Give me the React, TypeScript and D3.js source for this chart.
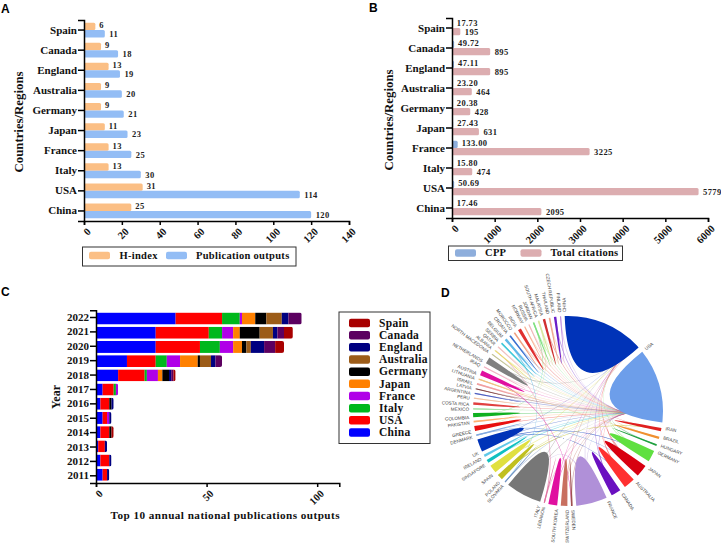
import React, { useEffect, useRef } from "react";
import * as d3 from "d3";

const countries = ["China", "USA", "Italy", "France", "Japan", "Germany", "Australia", "England", "Canada", "Spain"];
const hIndex = [25, 31, 13, 13, 11, 9, 9, 13, 9, 6];
const publications = [120, 114, 30, 25, 23, 21, 20, 19, 18, 11];
const cppLabels = ["17.46", "50.69", "15.80", "133.00", "27.43", "20.38", "23.20", "47.11", "49.72", "17.73"];
const totalCitations = [2095, 5779, 474, 3225, 631, 428, 464, 895, 895, 195];

const years = ["2011", "2012", "2013", "2014", "2015", "2016", "2017", "2018", "2019", "2020", "2021", "2022"];
const yearChina = [3, 2, 1, 2, 3, 2, 3, 10, 14, 27, 27, 36];
const yearUSA = [2, 4, 3, 4, 2, 4, 5, 12, 13, 20, 24, 21];
const yearItaly = [0, 0, 0, 0, 0, 0, 1, 1, 5, 9, 6, 8];
const yearFrance = [0, 0, 0, 0, 1, 0, 1, 5, 6, 6, 5, 1];
const yearJapan = [0, 0, 0, 0, 0, 0, 0, 2, 8, 4, 3, 6];
const yearGermany = [0, 0, 0, 1, 0, 1, 0, 3, 1, 2, 9, 5];
const yearAustralia = [0, 0, 0, 0, 0, 0, 0, 0, 5, 2, 6, 7];
const yearEngland = [1, 1, 1, 0, 1, 1, 0, 1, 2, 6, 2, 3];
const yearCanada = [0, 0, 0, 0, 0, 0, 0, 1, 3, 5, 3, 6];
const yearSpain = [0, 0, 0, 1, 0, 0, 0, 1, 0, 4, 4, 0];
const yearColors = ["#0000ff", "#ff0000", "#00b81c", "#b000e8", "#ff8000", "#000000", "#9c5c18", "#000080", "#5c0060", "#a80000"];

const chordNames = ["CHINA", "USA", "IRAN", "BRAZIL", "HUNGARY", "GERMANY", "JAPAN", "AUSTRALIA", "CANADA", "FRANCE", "SWEDEN", "SWITZERLAND", "SOUTH KOREA", "LEBANON", "ITALY", "SLOVAKIA", "POLAND", "SPAIN", "SINGAPORE", "IRELAND", "UK", "DENMARK", "GREECE", "PAKISTAN", "COLOMBIA", "MEXICO", "COSTA RICA", "PERU", "ARGENTINA", "LATVIA", "ISRAEL", "LITHUANIA", "AUSTRIA", "IRAQ", "NETHERLANDS", "NORTH MACEDONIA", "ALBANIA", "QATAR", "SERBIA", "BELGIUM", "CROATIA", "MOROCCO", "INDIA", "NORWAY", "RUSSIA", "JORDAN", "SOUTH AFRICA", "MALAYSIA", "THAILAND", "CZECH REPUBLIC", "FINLAND"];
const chordWeights = [50, 45.5, 2, 1.5, 1, 7, 7.5, 7, 6, 19, 1, 4, 5.4, 0.7, 22, 0.7, 3.5, 5, 2, 1.5, 7.7, 1, 3, 1, 2.5, 0.7, 1.5, 0.7, 0.7, 0.7, 1, 0.7, 3, 0.7, 4, 0.7, 0.7, 0.7, 1, 1.5, 1, 1, 2, 0.7, 0.7, 1, 1, 1.5, 1, 1.5, 0.7];
const chordColors = ["#0033b8", "#6d9eea", "#e02020", "#f09030", "#20a040", "#60e040", "#d80010", "#ff3030", "#6a10c0", "#b090d8", "#a05050", "#c87060", "#e010a0", "#e070a0", "#777777", "#7090c0", "#c0c020", "#e0e040", "#10c0c0", "#60c8e8", "#0033b8", "#80a8e0", "#e81010", "#ffb070", "#10b020", "#a0e0a0", "#e04040", "#f0c0a0", "#5060c0", "#804040", "#f0a0a0", "#f0c080", "#e010a0", "#f0b0c0", "#808080", "#c0c090", "#e8e070", "#f0c0c0", "#40c8d8", "#60b8e8", "#3a6fd0", "#f0a080", "#e03030", "#f8b090", "#f0b8b8", "#80e080", "#d8e8a0", "#d03030", "#f0a890", "#6a20c8", "#c090e0"];
const chinaPartners = ["ITALY", "FRANCE", "JAPAN", "GERMANY", "CANADA", "AUSTRALIA", "UK", "SOUTH KOREA", "SPAIN", "NETHERLANDS", "SWITZERLAND"];
const otherLinks = [["SOUTH AFRICA", "GREECE"], ["JORDAN", "COLOMBIA"], ["FRANCE", "ITALY"], ["UK", "GERMANY"], ["SPAIN", "ITALY"], ["POLAND", "IRAN"], ["AUSTRIA", "SWEDEN"], ["BELGIUM", "SLOVAKIA"], ["LEBANON", "ALBANIA"], ["UK", "AUSTRALIA"], ["DENMARK", "JAPAN"], ["LITHUANIA", "BRAZIL"]];

const serif = "'Liberation Serif', serif";
const sans = "'Liberation Sans', sans-serif";

function styleAxis(g: any, size: number) {
    g.selectAll("path").attr("stroke", "#000").attr("stroke-width", 1.5);
    g.selectAll("line").attr("stroke", "#000").attr("stroke-width", 1.5);
    g.selectAll("text").attr("font-family", serif).attr("font-weight", "bold").attr("font-size", size).attr("fill", "#111");
}

function drawAxes(svg: any, x: any, y: any, x0: number, y0: number, rowSize: number, tickFormat: any, tickValues: number[]) {
    const gx = svg.append("g")
        .attr("transform", `translate(0,${y0})`)
        .call(d3.axisBottom(x).tickValues(tickValues).tickSize(4).tickFormat(tickFormat));
    styleAxis(gx, 10.5);
    gx.selectAll("text")
        .attr("text-anchor", "end")
        .attr("dx", 3)
        .attr("dy", 0)
        .attr("transform", "rotate(-45) translate(-6,6)");

    const gy = svg.append("g")
        .attr("transform", `translate(${x0},0)`)
        .call(d3.axisLeft(y).tickSize(6).tickPadding(1));
    styleAxis(gy, rowSize);
}

function drawPairedBars(svg: any, opts: any) {
    const { x, y, first, second, firstColor, secondColor, firstText, secondText } = opts;
    const y1 = d3.scaleBand().domain(["first", "second"]).range([0, y.step()]).paddingOuter(0.36).paddingInner(0);

    const rows = svg.append("g");
    countries.forEach((c, i) => {
        rows.append("rect")
            .attr("x", x(0)).attr("y", y(c) + y1("first"))
            .attr("width", x(first[i]) - x(0)).attr("height", y1.bandwidth())
            .attr("rx", 1.5).attr("fill", firstColor);
        rows.append("rect")
            .attr("x", x(0)).attr("y", y(c) + y1("second"))
            .attr("width", x(second[i]) - x(0)).attr("height", y1.bandwidth())
            .attr("rx", 1.5).attr("fill", secondColor);
        rows.append("text")
            .text(firstText[i])
            .attr("x", x(first[i]) + 4).attr("y", y(c) + y1("first") + y1.bandwidth() / 2 - 1)
            .attr("dy", "0.32em");
        rows.append("text")
            .text(secondText[i])
            .attr("x", x(second[i]) + 4.5).attr("y", y(c) + y1("second") + y1.bandwidth() / 2 + 0.5)
            .attr("dy", "0.32em");
    });
    rows.selectAll("text")
        .attr("font-family", serif).attr("font-weight", "bold").attr("font-size", 8.5)
        .attr("letter-spacing", 0.4).attr("fill", "#222");
}

function yTitle(svg: any, text: string, x: number, y: number, size: number) {
    svg.append("text")
        .text(text)
        .attr("transform", `translate(${x},${y}) rotate(-90)`)
        .attr("text-anchor", "middle")
        .attr("font-family", serif).attr("font-weight", "bold").attr("font-size", size).attr("fill", "#111");
}

function legendBox(svg: any, x: number, y: number, w: number, h: number) {
    svg.append("rect")
        .attr("x", x).attr("y", y).attr("width", w).attr("height", h)
        .attr("fill", "#fff").attr("stroke", "#333").attr("stroke-width", 1);
}

function legendItem(svg: any, label: string, color: string, x: number, textX: number, y: number, size: number, h = 7.5) {
    svg.append("rect")
        .attr("x", x).attr("y", y - h / 2).attr("width", 21).attr("height", h)
        .attr("rx", 2).attr("fill", color);
    svg.append("text")
        .text(label)
        .attr("x", textX).attr("y", y).attr("dy", "0.32em")
        .attr("font-family", serif).attr("font-weight", "bold").attr("font-size", size)
        .attr("letter-spacing", 0.3).attr("fill", "#111");
}

function panelLetter(svg: any, text: string, x: number, y: number) {
    svg.append("text")
        .text(text)
        .attr("x", x).attr("y", y)
        .attr("font-family", sans).attr("font-weight", "bold").attr("font-size", 12).attr("fill", "#000");
}

function drawPanelA(svg: any) {
    const x = d3.scaleLinear().domain([0, 140]).range([84, 349]);
    const y = d3.scaleBand().domain(countries).range([221, 20]);
    drawPairedBars(svg, {
        x, y, first: hIndex, second: publications,
        firstColor: "#fbbf85", secondColor: "#93bdf5",
        firstText: hIndex, secondText: publications,
    });
    drawAxes(svg, x, y, 84, 221, 11, d3.format("d"), d3.range(0, 141, 20));
    yTitle(svg, "Countries/Regions", 23, 122, 12.8);
    legendBox(svg, 82.5, 247, 213.5, 19);
    legendItem(svg, "H-index", "#fbbf85", 89, 119.5, 255.5, 10.5);
    legendItem(svg, "Publication outputs", "#93bdf5", 166, 196, 255.5, 10.5);
    panelLetter(svg, "A", 1, 13);
}

function drawPanelB(svg: any) {
    const x = d3.scaleLinear().domain([0, 6000]).range([452, 708]);
    const y = d3.scaleBand().domain(countries).range([218, 18]);
    drawPairedBars(svg, {
        x, y, first: cppLabels.map(Number), second: totalCitations,
        firstColor: "#8eaedc", secondColor: "#dcadb0",
        firstText: cppLabels, secondText: totalCitations,
    });
    drawAxes(svg, x, y, 452, 218, 11, d3.format("d"), d3.range(0, 6001, 1000));
    yTitle(svg, "Countries/Regions", 393, 120, 12.8);
    legendBox(svg, 448.5, 246, 174, 14.5);
    legendItem(svg, "CPP", "#8eaedc", 455, 485, 253, 10.5);
    legendItem(svg, "Total citations", "#dcadb0", 520.5, 550.5, 253, 10.5);
    panelLetter(svg, "B", 369, 12);
}

function drawPanelC(svg: any) {
    const table = years.map((year, i) => ({
        year,
        China: yearChina[i], USA: yearUSA[i], Italy: yearItaly[i], France: yearFrance[i], Japan: yearJapan[i],
        Germany: yearGermany[i], Australia: yearAustralia[i], England: yearEngland[i], Canada: yearCanada[i], Spain: yearSpain[i],
    }));
    const x = d3.scaleLinear().domain([0, 110]).range([96, 339.3]);
    const y = d3.scaleBand().domain(years).range([483, 310.3]).padding(0.16);
    const stacked = d3.stack<any>().keys(countries)(table);
    const color = d3.scaleOrdinal<string>().domain(countries).range(yearColors);

    const defs = svg.append("defs");
    table.forEach((row, i) => {
        const total = stacked[stacked.length - 1][i][1];
        defs.append("clipPath").attr("id", `row-${row.year}`)
            .append("rect")
            .attr("x", x(0) - 3).attr("y", y(row.year))
            .attr("width", x(total) - x(0) + 3).attr("height", y.bandwidth())
            .attr("rx", 2);
    });

    svg.append("g").selectAll("g")
        .data(stacked)
        .join("g")
        .attr("fill", (s: any) => color(s.key))
        .selectAll("rect")
        .data((s: any) => s)
        .join("rect")
        .attr("x", (d: any) => x(d[0]))
        .attr("y", (d: any) => y(d.data.year))
        .attr("width", (d: any) => x(d[1]) - x(d[0]))
        .attr("height", y.bandwidth())
        .attr("clip-path", (d: any) => `url(#row-${d.data.year})`);

    const y2 = d3.scaleBand().domain(years).range([483, 310.3]);
    drawAxes(svg, x, y2, 96, 483, 11, d3.format("d"), [0, 50, 100]);
    yTitle(svg, "Year", 60, 397, 12);

    svg.append("text")
        .text("Top 10 annual national publications outputs")
        .attr("x", 340).attr("y", 519)
        .attr("text-anchor", "end")
        .attr("font-family", serif).attr("font-weight", "bold").attr("font-size", 11.2).attr("letter-spacing", 0.45).attr("fill", "#111");

    legendBox(svg, 339, 312, 91, 131.5);
    const legendY = d3.scalePoint().domain([...countries].reverse()).range([323, 432.5]);
    [...countries].reverse().forEach((c) => {
        legendItem(svg, c, color(c), 349, 379, legendY(c) as number, 11.5, 8.5);
    });
    panelLetter(svg, "C", 1, 296);
}

function drawPanelD(svg: any) {
    const R = 95;
    const deg = Math.PI / 180;
    // the gaps after the first nine countries are wider than the rest
    const wideGap = 3.39;
    const narrowGap = (360 - d3.sum(chordWeights) - 9 * wideGap) / (chordWeights.length - 9);

    let angle = -2;
    const span = new Map<string, any>();
    chordNames.forEach((name, i) => {
        const end = angle + chordWeights[i];
        span.set(name, { a0: angle * deg, a1: end * deg, color: chordColors[i] });
        angle = end + (i < 9 ? wideGap : narrowGap);
    });

    const g = svg.append("g").attr("transform", "translate(568,411)");
    const ribbon = d3.ribbon<any, any>().radius((d: any) => d.radius);

    const usa = span.get("USA")!;
    const china = span.get("CHINA")!;
    const usaPartners = chordNames.filter((n) => n !== "USA" && n !== "CHINA");
    const usaSlot = d3.scalePoint().domain(usaPartners).range([usa.a1 - 9 * deg, usa.a1 - 2 * deg]);
    const chinaSlot = d3.scalePoint().domain(chinaPartners).range([china.a1 - 5 * deg, china.a1 - 1.5 * deg]);

    const link = (from: string, a: number, radius: number, opacity = 0.45) => {
        const s = span.get(from)!;
        const w = Math.min(s.a1 - s.a0, 0.7 * deg);
        const mid = (s.a0 + s.a1) / 2;
        g.append("path")
            .attr("d", ribbon({
                source: { startAngle: mid - w / 2, endAngle: mid + w / 2, radius: R - 1 },
                target: { startAngle: a, endAngle: a + 0.4 * deg, radius },
            }))
            .attr("fill", s.color)
            .attr("fill-opacity", opacity);
    };

    usaPartners.forEach((n) => link(n, usaSlot(n) as number, R - 8));
    chinaPartners.forEach((n) => link(n, chinaSlot(n) as number, R - 6));
    otherLinks.forEach(([a, b]) => {
        const t = span.get(b)!;
        link(a, (t.a0 + t.a1) / 2, R - 1, 0.7);
    });

    chordNames.forEach((name) => {
        const s = span.get(name)!;
        const w = s.a1 - s.a0;
        const tip = Math.min(w * 0.3, 1.5 * deg);
        g.append("path")
            .attr("d", ribbon({
                source: { startAngle: s.a0, endAngle: s.a1 - tip, radius: R },
                target: { startAngle: s.a1 - tip, endAngle: s.a1, radius: R },
            }))
            .attr("fill", s.color);

        const a = (s.a0 * 180) / Math.PI;
        const left = a > 180;
        g.append("text")
            .text(name)
            .attr("transform", `rotate(${a - 90}) translate(${R + 4},0)${left ? " rotate(180)" : ""}`)
            .attr("text-anchor", left ? "end" : "start")
            .attr("dy", "0.32em")
            .attr("font-family", sans).attr("font-size", 4.6).attr("fill", "#444");
    });
    panelLetter(svg, "D", 441, 297);
}

export default function App() {
    const svgRef = useRef<SVGSVGElement>(null);

    useEffect(() => {
        const svg = d3.select(svgRef.current);
        svg.selectAll("*").remove();
        drawPanelA(svg);
        drawPanelB(svg);
        drawPanelC(svg);
        drawPanelD(svg);
    }, []);

    return (
        <svg
            ref={svgRef}
            width={721}
            height={544}
            style={{ position: "fixed", left: 0, top: 0, background: "#fff" }}
        />
    );
}
